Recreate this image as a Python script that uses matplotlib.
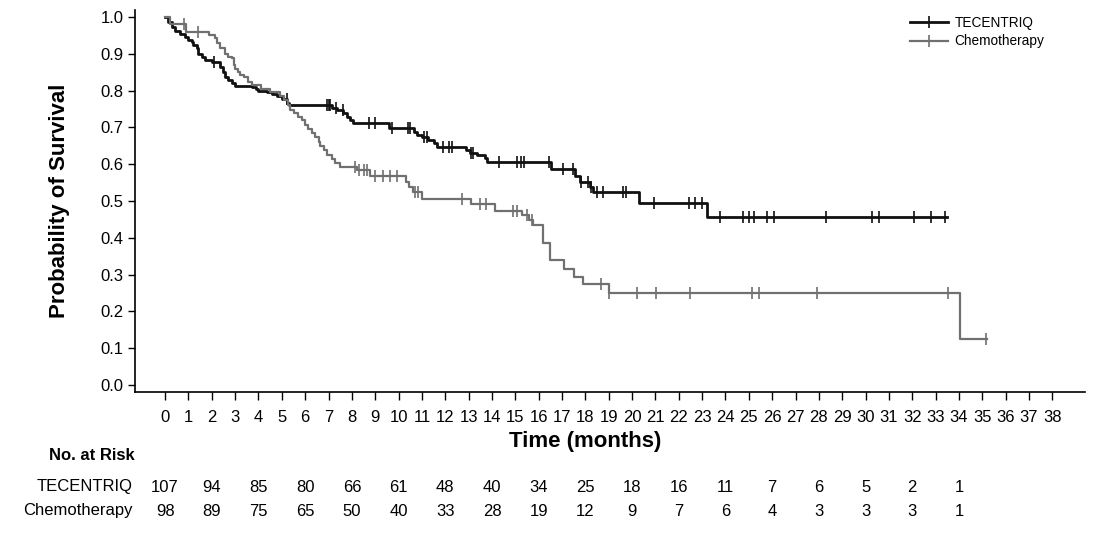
import numpy as np
import matplotlib
matplotlib.use("Agg")
import matplotlib.pyplot as plt
from matplotlib.transforms import blended_transform_factory
from matplotlib.lines import Line2D

plt.rcParams['font.family'] = ['Liberation Sans', 'DejaVu Sans']

# Kaplan-Meier steps (time in months, survival after each drop)
tec_t = [0, 0.14, 0.29, 0.43, 0.64, 0.86, 1.0, 1.14, 1.21, 1.36, 1.43, 1.57, 1.71, 2.0,
         2.36, 2.5, 2.57, 2.71, 2.86, 3.0, 3.71, 3.9, 4.0, 4.36, 4.57, 4.79, 5.0, 5.21,
         5.3, 7.14, 7.36, 7.64, 7.79, 7.93, 8.04, 9.57, 10.64, 10.78, 10.99, 11.28, 11.5,
         11.64, 12.9, 13.07, 13.35, 13.71, 13.78, 16.52, 17.57, 17.78, 18.2, 18.32, 20.3,
         23.2]
tec_s = [1.0, 0.987, 0.974, 0.963, 0.955, 0.946, 0.938, 0.933, 0.924, 0.915, 0.90, 0.892,
         0.883, 0.879, 0.865, 0.851, 0.838, 0.829, 0.82, 0.813, 0.81, 0.805, 0.80, 0.797,
         0.79, 0.785, 0.776, 0.765, 0.762, 0.752, 0.746, 0.738, 0.729, 0.72, 0.713, 0.697,
         0.688, 0.679, 0.675, 0.666, 0.658, 0.648, 0.639, 0.631, 0.625, 0.616, 0.606,
         0.587, 0.568, 0.553, 0.539, 0.524, 0.495, 0.456]
tec_end = 33.5
tec_cens = [2.1, 5.2, 6.93, 7.0, 7.05, 7.3, 7.6, 8.74, 9.0, 9.7, 10.4, 10.5, 11.1, 11.2,
            11.92, 12.14, 12.28, 13.1, 13.2, 14.28, 15.07, 15.25, 15.38, 16.45, 17.06,
            17.47, 17.8, 18.1, 18.25, 18.5, 18.75, 19.6, 19.75, 20.92, 22.42, 22.7, 23.0,
            23.78, 24.75, 24.99, 25.24, 25.8, 26.06, 28.32, 30.28, 30.56, 32.06, 32.8, 33.42]

che_t = [0, 0.21, 0.9, 1.86, 2.14, 2.21, 2.36, 2.57, 2.71, 2.86, 2.93, 3.0, 3.14, 3.21,
         3.36, 3.57, 3.71, 4.1, 4.5, 4.9, 5.1, 5.25, 5.36, 5.5, 5.71, 5.86, 6.0, 6.14, 6.29,
         6.43, 6.57, 6.64, 6.79, 6.93, 7.14, 7.28, 7.5, 8.21, 8.78, 10.3, 10.45, 10.6, 11.0,
         13.1, 14.14, 15.28, 15.6, 15.74, 16.18, 16.5, 17.07, 17.5, 17.9, 19.0, 34.03]
che_s = [1.0, 0.982, 0.96, 0.951, 0.942, 0.928, 0.915, 0.90, 0.892, 0.888, 0.87, 0.86,
         0.851, 0.842, 0.838, 0.824, 0.815, 0.805, 0.795, 0.785, 0.775, 0.76, 0.747, 0.738,
         0.729, 0.72, 0.707, 0.695, 0.684, 0.675, 0.661, 0.65, 0.639, 0.625, 0.613, 0.602,
         0.593, 0.584, 0.569, 0.553, 0.539, 0.525, 0.506, 0.492, 0.474, 0.462, 0.448, 0.435,
         0.387, 0.341, 0.315, 0.294, 0.274, 0.249, 0.124]
che_end = 35.2
che_cens = [0.83, 1.4, 8.14, 8.3, 8.5, 8.65, 9.0, 9.35, 9.64, 9.93, 10.7, 10.85, 12.7,
            13.47, 13.75, 14.9, 15.07, 15.5, 15.7, 18.68, 19.0, 20.2, 21.04, 22.5, 25.14,
            25.45, 27.9, 33.53, 35.15]

risk_times = list(range(0, 36, 2))
tec_risk = [107, 94, 85, 80, 66, 61, 48, 40, 34, 25, 18, 16, 11, 7, 6, 5, 2, 1]
che_risk = [98, 89, 75, 65, 50, 40, 33, 28, 19, 12, 9, 7, 6, 4, 3, 3, 3, 1]

BLACK = '#111111'
GRAY = '#707070'

fig = plt.figure(figsize=(11.01, 5.46), dpi=100)
ax = fig.add_axes([0.1226, 0.2813, 0.8629, 0.7011])


def km(ax, t, s, end, cens, color, lw, label):
    t = np.array(t)
    s = np.array(s)
    ax.step(np.append(t, end), np.append(s, s[-1]), where='post', color=color, lw=lw,
            label=label)
    idx = np.searchsorted(t, cens, side='right') - 1
    ax.plot(cens, s[idx], ls='none', marker='|', color=color, ms=8, mew=1.2)


km(ax, tec_t, tec_s, tec_end, tec_cens, BLACK, 2.0, 'TECENTRIQ')
km(ax, che_t, che_s, che_end, che_cens, GRAY, 1.6, 'Chemotherapy')

ax.set_xlim(-1.29, 39.4)
ax.set_ylim(-0.02, 1.02)
ax.set_xticks(range(0, 39))
ax.set_yticks(np.arange(0, 1.01, 0.1))
ax.yaxis.set_major_formatter(plt.FormatStrFormatter('%.1f'))
for side in ['top', 'right']:
    ax.spines[side].set_visible(False)
ax.spines['left'].set_linewidth(1.2)
ax.spines['bottom'].set_linewidth(1.2)
ax.tick_params(axis='x', direction='out', length=6, width=1, labelsize=12, pad=7)
ax.tick_params(axis='y', direction='out', length=5, width=1, labelsize=12, pad=3)

ax.set_ylabel('Probability of Survival', fontsize=16, fontweight='bold', labelpad=22)
fig.text(585 / 1101, 1 - 441 / 546, 'Time (months)', fontsize=16, fontweight='bold',
         ha='center', va='center')

handles = [Line2D([], [], color=BLACK, lw=2.0, marker='|', ms=8, mew=1.2),
           Line2D([], [], color=GRAY, lw=1.6, marker='|', ms=8, mew=1.2)]
ax.legend(handles, ['TECENTRIQ', 'Chemotherapy'], loc='upper right',
          bbox_to_anchor=(0.97, 1.016), frameon=False, fontsize=9.8,
          handlelength=2.8, handletextpad=0.45, labelspacing=0.35)

# number at risk table
tr = blended_transform_factory(ax.transData, fig.transFigure)
fig.text(135 / 1101, 1 - 456 / 546, 'No. at Risk', fontsize=12, fontweight='bold',
         ha='right', va='center')
fig.text(133 / 1101, 1 - 487 / 546, 'TECENTRIQ', fontsize=12, ha='right', va='center')
fig.text(133 / 1101, 1 - 511 / 546, 'Chemotherapy', fontsize=12, ha='right', va='center')
for x, a, b in zip(risk_times, tec_risk, che_risk):
    ax.text(x, 1 - 487 / 546, str(a), transform=tr, fontsize=12, ha='center',
            va='center', clip_on=False)
    ax.text(x, 1 - 511 / 546, str(b), transform=tr, fontsize=12, ha='center',
            va='center', clip_on=False)

fig.savefig('out.png', dpi=100)
